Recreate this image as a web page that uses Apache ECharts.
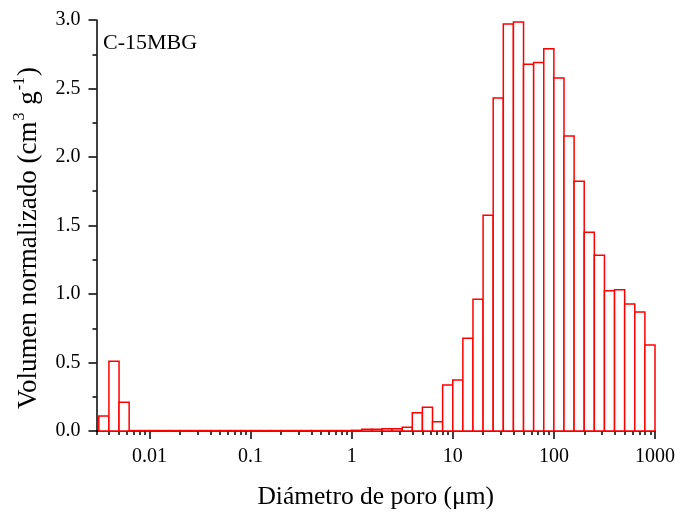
<!DOCTYPE html>
<html>
<head>
<meta charset="utf-8">
<script src="https://cdn.jsdelivr.net/npm/echarts@6/dist/echarts.min.js"></script>
<style>
html,body{margin:0;padding:0;background:#fff;}
#chart{width:681px;height:515px;}
</style>
</head>
<body>
<div id="chart"></div>
<script>
// Bin edges (pore diameter, µm) – log-spaced histogram bins
var binEdges = [
  0.003162, 0.003981, 0.005012, 0.006310, 0.007943,
  0.01, 0.012589, 0.015849, 0.019953, 0.025119, 0.031623, 0.039811, 0.050119, 0.063096, 0.079433,
  0.1, 0.12589, 0.15849, 0.19953, 0.25119, 0.31623, 0.39811, 0.50119, 0.63096, 0.79433,
  1, 1.2589, 1.5849, 1.9953, 2.5119, 3.1623, 3.9811, 5.0119, 6.3096, 7.9433,
  10, 12.589, 15.849, 19.953, 25.119, 31.623, 39.811, 50.119, 63.096, 79.433,
  100, 125.89, 158.49, 199.53, 251.19, 316.23, 398.11, 501.19, 630.96, 794.33,
  1000
];
// Normalised volume in each bin (cm3 g-1)
var binValues = [
  0.11, 0.51, 0.21, 0.003, 0.003,
  0.003, 0.003, 0.003, 0.003, 0.003, 0.003, 0.003, 0.003, 0.003, 0.003,
  0.003, 0.003, 0.003, 0.003, 0.003, 0.003, 0.003, 0.003, 0.003, 0.003,
  0.005, 0.012, 0.012, 0.017, 0.017, 0.027, 0.134, 0.173, 0.068, 0.336,
  0.372, 0.677, 0.961, 1.574, 2.43, 2.97, 2.985, 2.677, 2.69, 2.79,
  2.577, 2.153, 1.823, 1.45, 1.282, 1.024, 1.031, 0.927, 0.869, 0.628
];
var xMajorTicks = [0.01, 0.1, 1, 10, 100, 1000];
var xMinorTicks = [
  0.003, 0.004, 0.005, 0.006, 0.007, 0.008, 0.009,
  0.02, 0.03, 0.04, 0.05, 0.06, 0.07, 0.08, 0.09,
  0.2, 0.3, 0.4, 0.5, 0.6, 0.7, 0.8, 0.9,
  2, 3, 4, 5, 6, 7, 8, 9,
  20, 30, 40, 50, 60, 70, 80, 90,
  200, 300, 400, 500, 600, 700, 800, 900
];
var sampleLabel = 'C-15MBG';
var xTitle = 'Diámetro de poro (μm)';
var yTitle = '{a|Volumen normalizado (cm}{s|3}{a| g}{s|-1}{a|)}';

var data = [];
for (var i = 0; i < binValues.length; i++) {
  data.push([binEdges[i], binEdges[i + 1], binValues[i]]);
}

var FONT = '"Liberation Serif", "Times New Roman", serif';
var chart = echarts.init(document.getElementById('chart'), null, {renderer: 'canvas'});
chart.setOption({
  animation: false,
  backgroundColor: '#fff',
  grid: {left: 96.5, right: 26, top: 20, bottom: 84},
  xAxis: [{
    type: 'log', logBase: 10, min: 0.003, max: 1000, position: 'bottom',
    axisLine: {show: true, onZero: false, lineStyle: {color: '#000', width: 1.5}},
    axisTick: {show: true, inside: false, length: 8, lineStyle: {color: '#000', width: 1.5}, customValues: xMajorTicks},
    axisLabel: {show: true, margin: 16, color: '#000', fontFamily: FONT, fontSize: 20, customValues: xMajorTicks,
      formatter: function (v) { return String(v); }},
    splitLine: {show: false}, minorTick: {show: false},
    name: xTitle, nameLocation: 'middle', nameGap: 53,
    nameTextStyle: {color: '#000', fontFamily: FONT, fontSize: 25.5}
  }, {
    type: 'log', logBase: 10, min: 0.003, max: 1000, position: 'bottom',
    axisLine: {show: false},
    axisTick: {show: true, inside: false, length: 4, lineStyle: {color: '#000', width: 1.5}, customValues: xMinorTicks},
    axisLabel: {show: false},
    splitLine: {show: false}
  }],
  yAxis: {
    type: 'value', min: 0, max: 3, interval: 0.5, position: 'left',
    axisLine: {show: true, onZero: false, lineStyle: {color: '#000', width: 1.5}},
    axisTick: {show: true, inside: false, length: 8, lineStyle: {color: '#000', width: 1.5}},
    minorTick: {show: true, splitNumber: 2, length: 4, lineStyle: {color: '#000', width: 1.5}},
    axisLabel: {margin: 16, color: '#000', fontFamily: FONT, fontSize: 20,
      formatter: function (v) { return v.toFixed(1); }},
    splitLine: {show: false}
  },
  graphic: [{
    type: 'text', left: 103, top: 32,
    style: {text: sampleLabel, font: '22px ' + FONT, fill: '#000'}
  }, {
    type: 'text', x: 27, y: 238, rotation: Math.PI / 2,
    style: {
      text: yTitle, align: 'center', verticalAlign: 'middle', fill: '#000',
      font: '27px ' + FONT,
      rich: {
        a: {fontFamily: FONT, fontSize: 27, fill: '#000', lineHeight: 30, verticalAlign: 'bottom'},
        s: {fontFamily: FONT, fontSize: 16, fill: '#000', lineHeight: 30, verticalAlign: 'top', padding: [0, 1, 0, 1]}
      }
    }
  }],
  series: [{
    type: 'custom',
    xAxisIndex: 0, yAxisIndex: 0,
    encode: {x: [0, 1], y: 2},
    data: data,
    renderItem: function (params, api) {
      var p0 = api.coord([api.value(0), api.value(2)]);
      var p1 = api.coord([api.value(1), 0]);
      return {
        type: 'rect',
        shape: {x: p0[0], y: p0[1], width: p1[0] - p0[0], height: p1[1] - p0[1]},
        style: {fill: '#fff', stroke: '#ff0000', lineWidth: 1.5}
      };
    }
  }]
});
</script>
</body>
</html>
